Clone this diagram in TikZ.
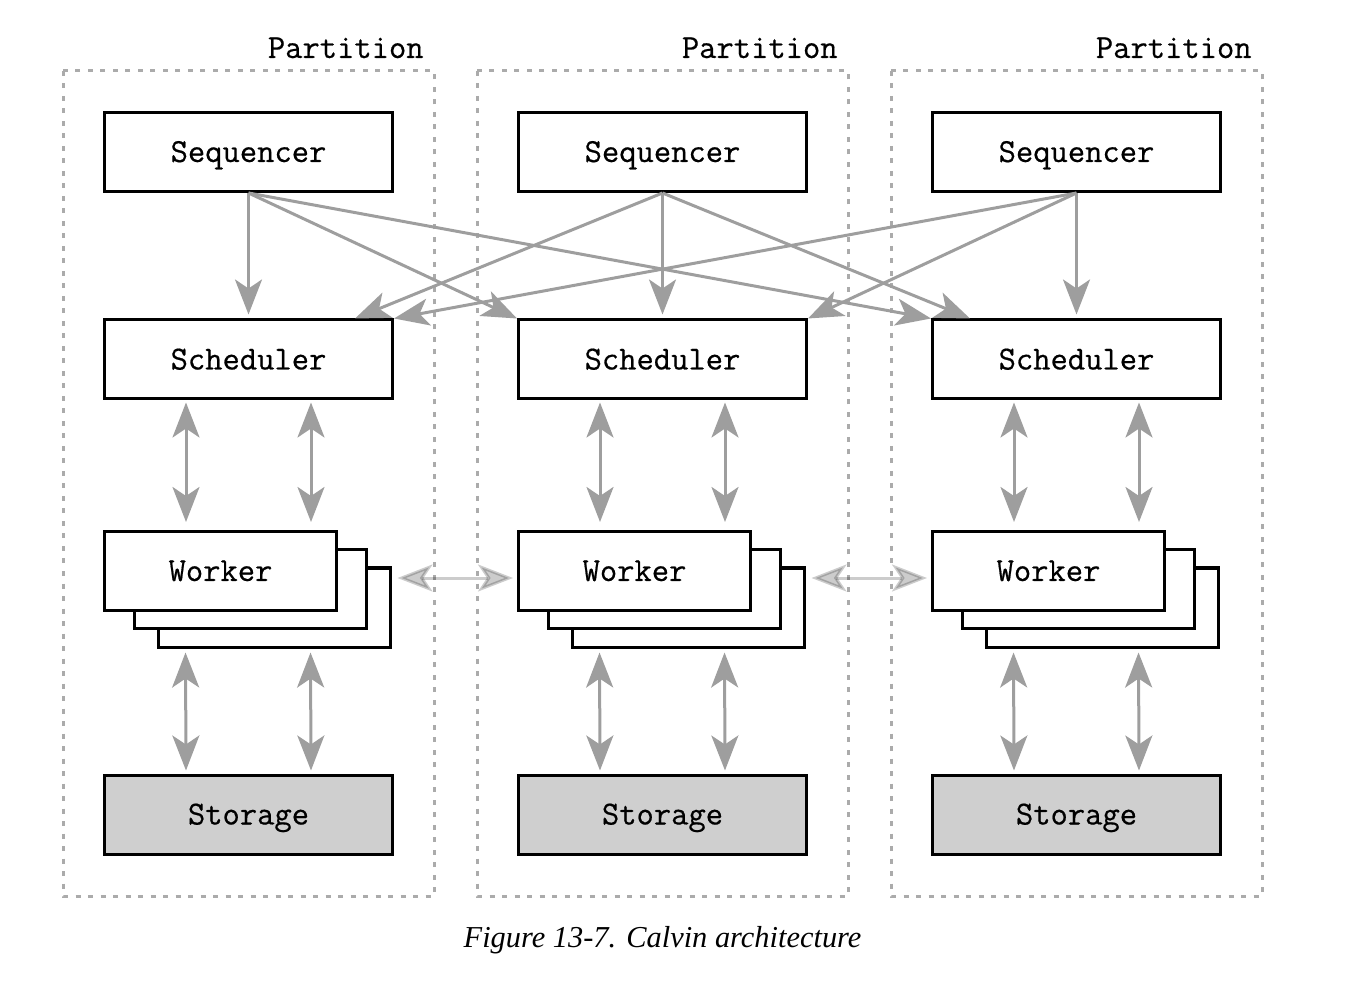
\documentclass[tikz,border=0pt]{standalone}
\usepackage{fontspec}
\newfontfamily\capfont{Liberation Serif}
\newfontfamily\boxfont[FakeBold=0.5]{Latin Modern Mono}
\usetikzlibrary{arrows.meta,calc}

\tikzset{
  part/.style={draw=black!33, line width=1.5pt, dash pattern=on 2.5pt off 3.75pt},
  partlabel/.style={anchor=base east, inner sep=0pt, font=\boxfont\fontsize{16.8}{18}\selectfont},
  box/.style={draw, line width=1.5pt, fill=white, minimum width=144pt, minimum height=39.5pt,
    inner sep=0pt, text height=10pt, text depth=0pt, font=\boxfont\fontsize{16.8}{18}\selectfont},
  card/.style={box, minimum width=116pt},
  store/.style={box, fill=black!19},
  tip/.tip={Stealth[length=17.5pt, width=13.5pt, inset=4.5pt]},
  flow/.style={draw=black!38, line width=1.5pt, -tip},
  both/.style={draw=black!38, line width=1.5pt, tip-tip},
  peer/.style={draw=black, opacity=0.2, line width=1.5pt, tip-tip}
}

\begin{document}
\begin{tikzpicture}[x=0.5pt, y=-0.5pt]
        \useasboundingbox (0,0) rectangle (1358,1004);
        % one partition per column
        \foreach \i/\dx in {1/0, 2/414, 3/828} {
            \draw [part] (63+\dx,71) rectangle (434+\dx,896);
            \node [partlabel] (pl\i) at (424+\dx,58) {Partition};
            \node [box] (sq\i) at (248.5+\dx,152) {Sequencer};
            \node [box] (sc\i) at (248.5+\dx,359.5) {Scheduler};
            \node [card] (wc\i) at (274+\dx,607.5) {};
            \node [card] (wb\i) at (250+\dx,589) {};
            \node [card] (wa\i) at (220.5+\dx,571) {Worker};
            \node [store] (st\i) at (248.5+\dx,814.5) {Storage};
            \draw [flow, shorten >=2pt] (sq\i.south) -- (sc\i.north);
            \draw [both, shorten <=1pt, shorten >=4pt] ($(sc\i.south west)+(83,0)$) -- ($(wa\i.north west)+(83,0)$);
            \draw [both, shorten <=1pt, shorten >=4pt] ($(sc\i.south west)+(208,0)$) -- ($(wa\i.north west)+(208,0)$);
            \draw [both, shorten <=2pt, shorten >=1.5pt] ($(wc\i.south west)+(29,0)$) -- ($(st\i.north west)+(83,0)$);
            \draw [both, shorten <=2pt, shorten >=1.5pt] ($(wc\i.south west)+(154,0)$) -- ($(st\i.north west)+(208,0)$);
        }
        % sequencers feed every scheduler
        \draw [flow] (sq1.south) -- (sc2.north west);
        \draw [flow] (sq1.south) -- (sc3.north west);
        \draw [flow] (sq2.south) -- ([xshift=-19.5pt]sc1.north east);
        \draw [flow] (sq2.south) -- ([xshift=19.5pt]sc3.north west);
        \draw [flow] (sq3.south) -- (sc1.north east);
        \draw [flow] (sq3.south) -- (sc2.north east);
        % workers talk across partitions
        \draw [peer, shorten <=3pt, shorten >=2pt] ([yshift=-3.5pt]wa1.east -| wc1.east) -- ([yshift=-3.5pt]wa2.west);
        \draw [peer, shorten <=3pt, shorten >=2pt] ([yshift=-3.5pt]wa2.east -| wc2.east) -- ([yshift=-3.5pt]wa3.west);
        \node [anchor=base, inner sep=0pt, font=\capfont\itshape\fontsize{15.2}{18}\selectfont] (cap) at (662.5,947) {Figure 13-7. Calvin architecture};
    \end{tikzpicture}
\end{document}
